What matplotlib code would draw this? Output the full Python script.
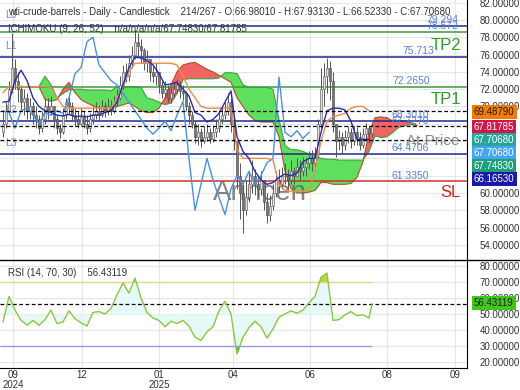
import matplotlib
matplotlib.use("Agg")
import matplotlib.pyplot as plt
import numpy as np
from matplotlib.lines import Line2D
import matplotlib.transforms as mtransforms

plt.rcParams['font.family'] = ['Liberation Sans', 'DejaVu Sans']

# --- daily candles (open = previous close) ---
close = [68.0, 69.5, 72.0, 74.5, 73.0, 72.0, 70.5, 71.0, 69.5, 70.0,
         69.0, 68.5, 67.5, 68.5, 70.0, 69.5, 70.0, 68.5, 67.5, 67.0,
         69.0, 70.5, 70.0, 69.0, 68.5, 68.0, 68.8, 68.0, 67.5, 68.5,
         69.0, 69.5, 69.0, 70.0, 69.5, 70.0, 69.5, 70.5, 71.0, 72.5,
         74.0, 73.5, 75.0, 76.0, 77.5, 77.0, 76.5, 75.0, 75.5, 74.0,
         73.5, 74.0, 72.5, 71.5, 72.0, 71.0, 71.5, 72.0, 72.5, 71.8,
         71.5, 70.0, 69.0, 68.0, 66.5, 67.0, 66.0, 66.5, 67.0, 66.2,
         67.0, 67.5, 68.5, 69.0, 69.5, 70.5, 68.0, 66.0, 62.0, 60.0,
         58.0, 59.5, 61.0, 62.0, 61.0, 60.5, 61.5, 59.0, 57.5, 58.5,
         60.0, 61.5, 61.0, 62.0, 62.0, 61.5, 62.5, 62.0, 63.0, 62.5,
         63.0, 63.5, 64.0, 63.5, 64.5, 68.0, 72.0, 73.5, 74.5, 73.0,
         68.0, 66.0, 66.5, 65.5, 66.5, 67.0, 66.0, 67.0, 66.5, 65.5,
         66.8, 67.5, 66.98, 67.7068]
high = [69.5, 70.5, 73.0, 78.5, 75.5, 74.0, 72.5, 72.0, 71.5, 71.0,
        70.5, 70.0, 69.0, 69.5, 71.0, 71.0, 71.2, 70.0, 69.0, 68.0,
        69.8, 71.0, 71.6, 70.5, 69.8, 69.5, 69.8, 69.5, 69.0, 69.2,
        70.0, 70.5, 70.2, 70.8, 70.5, 71.0, 70.8, 71.2, 72.0, 73.5,
        74.8, 75.0, 76.0, 77.0, 78.8, 78.5, 77.8, 76.8, 76.5, 75.5,
        74.8, 75.0, 74.0, 73.0, 73.0, 72.5, 72.2, 72.8, 73.2, 73.0,
        72.5, 71.8, 70.5, 69.5, 68.3, 68.0, 67.5, 67.8, 68.0, 67.5,
        67.8, 68.5, 69.2, 69.8, 70.5, 71.6, 71.0, 68.5, 66.0, 63.5,
        61.0, 61.5, 62.5, 63.8, 62.8, 62.0, 62.5, 61.5, 60.0, 59.8,
        61.0, 62.5, 62.8, 63.0, 63.5, 62.8, 63.8, 63.0, 64.0, 63.8,
        64.2, 64.0, 64.8, 65.0, 65.3, 68.5, 74.5, 75.0, 75.6, 75.3,
        74.0, 68.0, 67.3, 67.0, 67.3, 67.8, 67.5, 67.8, 67.6, 67.0,
        67.5, 68.1, 67.8, 67.9313]
low = [66.5, 67.5, 69.0, 71.5, 72.0, 70.5, 69.5, 69.0, 68.5, 68.5,
       68.0, 67.5, 66.8, 67.0, 68.0, 68.5, 69.0, 67.5, 66.8, 66.3,
       66.8, 68.5, 69.0, 68.3, 67.8, 67.5, 67.8, 67.5, 66.8, 67.0,
       68.0, 68.5, 68.3, 68.8, 68.8, 69.0, 69.0, 69.2, 70.0, 70.8,
       72.0, 72.8, 73.0, 74.5, 75.5, 75.8, 75.0, 74.2, 74.0, 73.0,
       72.8, 72.5, 71.5, 71.0, 71.0, 70.5, 70.4, 71.0, 71.5, 71.0,
       70.8, 69.5, 68.0, 67.5, 65.8, 65.5, 65.3, 65.8, 66.0, 65.8,
       65.9, 66.5, 67.0, 68.0, 68.5, 69.0, 67.0, 65.0, 60.5, 57.0,
       55.4, 57.5, 59.0, 60.0, 59.8, 59.5, 59.8, 58.0, 56.5, 56.8,
       58.0, 59.5, 60.0, 60.5, 61.0, 60.5, 61.0, 61.0, 61.8, 61.5,
       62.0, 62.0, 62.8, 62.5, 63.0, 64.0, 67.5, 70.0, 71.5, 70.8,
       67.0, 64.2, 65.0, 64.6, 65.0, 65.8, 65.2, 65.5, 65.5, 65.0,
       65.2, 66.0, 65.8, 66.5233]

# --- ichimoku lines, one value every second bar ---
tenkan = [70.5, 70.6, 73.0, 74.2, 73.0, 71.0, 70.0, 69.5, 69.3, 69.0,
          68.9, 69.1, 68.8, 68.9, 68.8, 69.0, 69.0, 69.3, 69.5, 70.5,
          72.5, 74.5, 75.7, 75.6, 75.3, 74.8, 73.8, 72.5, 72.6, 72.8,
          72.0, 71.2, 69.3, 69.0, 68.2, 68.5, 69.2, 70.5, 71.8, 66.5,
          64.8, 64.0, 62.5, 61.5, 61.0, 61.2, 61.8, 62.2, 62.0, 62.3,
          63.6, 64.0, 64.0, 67.0, 69.5, 69.8, 69.8, 69.6, 68.3, 66.2,
          66.2, 66.17]
kijun = [71.6, 72.3, 72.3, 72.3, 72.3, 72.3, 72.3, 72.3, 72.2, 71.0,
         70.0, 69.8, 69.8, 69.8, 69.8, 69.8, 69.8, 69.8, 69.8, 71.0,
         72.3, 74.0, 75.0, 75.0, 75.0, 75.0, 75.0, 75.0, 75.0, 74.8,
         73.5, 72.0, 71.0, 70.0, 69.8, 69.8, 69.8, 69.8, 69.8, 65.0,
         64.0, 64.0, 64.0, 64.0, 64.0, 63.8, 61.0, 60.3, 60.2, 60.2,
         60.2, 60.3, 62.5, 66.0, 68.3, 68.8, 69.0, 69.2, 69.8, 70.0,
         70.0, 69.5]
chikou = [69.5, 69.3, 67.5, 69.5, 69.8, 69.0, 68.0, 69.3, 69.0, 69.5,
          69.2, 71.0, 73.8, 74.5, 77.5, 78.0, 74.8, 73.9, 73.0, 72.5,
          71.5, 70.5, 69.5, 68.5, 67.5, 66.8, 67.5, 68.3, 67.2, 69.0,
          70.6, 64.0, 58.0, 61.0, 64.0, 61.5, 59.5, 57.5, 60.5, 62.0,
          61.0, 62.5, 61.0, 62.0, 63.5, 64.0, 73.4, 67.0, 66.5, 67.2,
          66.3, 67.0]
span_a = [72.3, 73.5, 72.5, 71.0, 71.5, 71.9, 72.0, 72.0, 71.9, 71.9,
          71.9, 71.9, 71.8, 72.3, 72.3, 72.3, 72.3, 72.2, 71.0, 70.8,
          70.5, 70.2, 70.4, 71.5, 73.1, 73.2, 73.2, 73.2, 73.2, 73.2,
          73.3, 73.9, 73.9, 73.8, 72.5, 72.2, 72.2, 72.2, 72.2, 72.0,
          68.5, 65.5, 65.0, 65.0, 64.8, 64.5, 64.3, 64.0, 63.9, 63.9,
          63.8, 63.8, 63.8, 63.8, 63.8, 64.8, 66.6, 66.4, 66.5, 67.0,
          67.6, 67.8, 67.9, 67.75]
span_b = [72.3, 70.8, 70.6, 70.8, 72.0, 72.8, 71.6, 70.8, 70.4, 70.1,
          69.8, 69.6, 69.4, 70.0, 70.2, 70.4, 70.0, 69.5, 69.3, 69.3,
          69.8, 71.0, 72.5, 74.0, 74.8, 75.0, 75.1, 74.7, 74.3, 74.0,
          73.6, 73.2, 72.8, 71.0, 70.0, 69.0, 68.4, 68.2, 68.2, 68.2,
          66.5, 62.5, 60.5, 60.0, 60.0, 60.1, 60.3, 61.2, 61.2, 61.0,
          61.0, 61.0, 61.1, 61.8, 63.6, 67.0, 68.7, 68.8, 68.7, 68.3,
          68.4, 68.3, 68.1, 67.82]

rsi = [45, 61, 52.5, 46, 43, 46, 43, 46.5, 52.5, 44,
       45, 52, 47, 44.5, 42.5, 51, 51.5, 50, 53.5, 62,
       69.4, 63, 72.5, 60, 51, 47.5, 46, 42, 45.5, 44,
       46, 42.5, 35.5, 33.5, 39, 42, 52, 58, 50, 25,
       35.5, 41.5, 45.5, 42, 35, 40.6, 48, 50, 52, 50.5,
       52.5, 57, 61, 73, 75.6, 46, 46.5, 49.5, 51.5, 49,
       49.5, 47.5, 56.43119]

# horizontal levels
levels = [79.294, 78.572, 75.713, 72.2650, 68.3010, 64.4706, 61.3350]
level_text = ["79.294", "78.572", "75.713", "72.2650", "68.3010", "64.4706", "61.3350"]
level_color = ["#1f2a8a", "#3c9a3c", "#1f2a8a", "#3c9a3c", "#1f2a8a", "#1f2a8a", "#d03030"]
dashed_levels = [69.4879, 67.7068, 66.1653]

tick_pos = [3.33, 26.33, 52, 76.67, 102.33, 128, 150.67]
tick_lab = ["09\n2024", "12", "01\n2025", "04", "06", "08", "09"]

close = np.array(close)
high = np.array(high)
low = np.array(low)
t = np.arange(len(close))
opn = np.r_[67.0, close[:-1]]
high = np.maximum(high, np.maximum(opn, close))
low = np.minimum(low, np.minimum(opn, close))
t_line = np.arange(0, 123, 2)
t_chik = np.arange(0, 103, 2)
t_cloud = np.arange(12, 139, 2)
t_rsi = np.r_[np.arange(0, 123, 2), 123]
span_a = np.array(span_a)
span_b = np.array(span_b)
rsi = np.array(rsi)

fig = plt.figure(figsize=(5.2, 3.9), dpi=100)
ax = fig.add_axes([0, 130 / 390, 467 / 520, 260 / 390])
ax2 = fig.add_axes([0, 22 / 390, 467 / 520, 108 / 390])

for a in (ax, ax2):
    a.set_xlim(-1, 154.67)
    a.set_xticks(tick_pos)
    a.grid(True, color="#e6e6e6", lw=0.8)
    a.set_axisbelow(True)
    a.yaxis.tick_right()
    a.tick_params(axis="y", length=0, pad=9, labelsize=7, labelcolor="#333333")
    a.tick_params(axis="x", length=0, labelsize=7, labelcolor="#333333")
    for s in ("top", "left"):
        a.spines[s].set_visible(False)
    a.spines["right"].set_color("black")

ax.spines["bottom"].set_visible(False)
ax.set_xticklabels([])
ax2.set_xticklabels(tick_lab, va="top", linespacing=0.95)
ax2.tick_params(axis="x", pad=1.5)

# main panel (labels hidden under the value tags are left out)
ax.set_ylim(52.25, 82.31)
yt = np.arange(54, 82.1, 2)
ax.set_yticks(yt)
ax.set_yticklabels(["" if 61 < v < 69 else "%.5f" % v for v in yt])

ax.fill_between(t_cloud, span_a, span_b, where=span_a >= span_b, interpolate=True,
                color="#5ee05e", lw=0, zorder=1)
ax.fill_between(t_cloud, span_a, span_b, where=span_a < span_b, interpolate=True,
                color="#f06464", lw=0, zorder=1)
ax.plot(t_cloud, span_a, color="#3f9f3f", lw=0.8, zorder=2)
ax.plot(t_cloud, span_b, color="#b0502c", lw=0.8, zorder=2)

for v, c in zip(levels, level_color):
    ax.axhline(v, color=c, lw=1.1, zorder=3)
for v in dashed_levels:
    ax.axhline(v, color="black", lw=0.9, ls=(0, (3, 2)), zorder=6)

ax.text(0.557, 60.0, "Arincen", transform=mtransforms.blended_transform_factory(ax.transAxes, ax.transData),
        fontsize=20, color="#666666", alpha=0.8, ha="center", va="center", zorder=3.5)

up = close >= opn
ax.vlines(t, low, high, color="#555555", lw=0.7, zorder=4)
ax.bar(t[up], (close - opn)[up], bottom=opn[up], width=0.7, color="#dddddd",
       edgecolor="#555555", lw=0.4, zorder=4.5)
ax.bar(t[~up], (close - opn)[~up], bottom=opn[~up], width=0.7, color="#777777",
       edgecolor="#444444", lw=0.4, zorder=4.5)

ax.plot(t_chik, chikou, color="#4a90e2", lw=1.0, zorder=5)
ax.plot(t_line, kijun, color="#f08a4b", lw=1.0, zorder=5)
ax.plot(t_line, tenkan, color="#2b2bb0", lw=1.0, zorder=5)

bt = mtransforms.blended_transform_factory(ax.transAxes, ax.transData)
label_x = [426, 426, 402, 392, 392, 392, 392]
for v, s, px in zip(levels, level_text, label_x):
    ax.text(px / 467, v + 0.1, s, transform=bt, fontsize=7.5, color="#5b82d6",
            va="bottom", zorder=7)
ax.text(392 / 467, 67.80, "67.7270", transform=bt, fontsize=7.5, color="#5b82d6",
        va="bottom", zorder=7)
for s, v in [("L0", 79.294), ("L1", 75.713), ("L2", 68.3010), ("L3", 64.4706)]:
    ax.annotate(s, xy=(0.01, v), xycoords=bt, xytext=(0, 8), textcoords="offset points",
                fontsize=7.5, color="#6a8fd8", va="center", zorder=3.6)
ax.text(446 / 467, 77.1, "TP2", transform=bt, fontsize=12, color="#2e9e2e", ha="center", va="center", zorder=7)
ax.text(446 / 467, 70.75, "TP1", transform=bt, fontsize=12, color="#2e9e2e", ha="center", va="center", zorder=7)
ax.text(450 / 467, 60.0, "SL", transform=bt, fontsize=12, color="#d02020", ha="center", va="center", zorder=7)
ax.text(433 / 467, 66.05, "At Price", transform=bt, fontsize=11, color="#888888", ha="center", va="center", zorder=7)

# rsi panel
ax2.set_ylim(16.25, 83.75)
rt = np.arange(20, 81, 10)
ax2.set_yticks(rt)
ax2.set_yticklabels(["%.5f" % v for v in rt])
ax2.fill_between(t_rsi, rsi, 50, color="#e6f9f9", lw=0, zorder=1)
ax2.fill_between(t_rsi, rsi, 70, where=rsi > 70, interpolate=True, color="#bcd444", lw=0, zorder=2)
ax2.fill_between(t_rsi, rsi, 30, where=rsi < 30, interpolate=True, color="#8080e0", lw=0, zorder=2)
ax2.hlines(70, -1, t_rsi[-1], color="#e3d88a", lw=1.0, zorder=2)
ax2.hlines(30, -1, t_rsi[-1], color="#9a9ae6", lw=1.0, zorder=2)
ax2.axhline(rsi[-1], color="black", lw=0.9, ls=(0, (3, 2)), zorder=3)
ax2.plot(t_rsi, rsi, color="#8dc63f", lw=1.0, zorder=4)

# separators and header texts
fig.add_artist(Line2D([0, 1], [130 / 390, 130 / 390], color="black", lw=1))
fig.text(8 / 520, 1 - 12 / 390,
         "wti-crude-barrels - Daily - Candlestick    214/267 - O:66.98010 - H:67.93130 - L:66.52330 - C:67.70680",
         fontsize=7, color="#333333", va="center")
fig.text(8 / 520, 1 - 29 / 390, "ICHIMOKU (9, 26, 52)    n/a/n/a/n/a/67.74830/67.81785",
         fontsize=7, color="#333333", va="center")
fig.text(8 / 520, 1 - 273 / 390, "RSI (14, 70, 30)    56.43119",
         fontsize=7, color="#333333", va="center")

tags = [("69.48790", "#f57c00", "#222222", 112),
        ("67.81785", "#d01848", "white", 127),
        ("67.70680", "#26a69a", "white", 140),
        ("67.70680", "#42a5f5", "white", 153),
        ("67.74830", "#1e9e7a", "white", 166),
        ("66.16530", "#1a1aaa", "white", 179),
        ("56.43119", "#3ec81e", "#222222", 303)]
for s, bg, fg, py in tags:
    fig.text(474 / 520, 1 - py / 390, s, fontsize=7, color=fg, va="center",
             bbox=dict(boxstyle="square,pad=0.2", fc=bg, ec="none"))

fig.savefig("out.png", dpi=100)
